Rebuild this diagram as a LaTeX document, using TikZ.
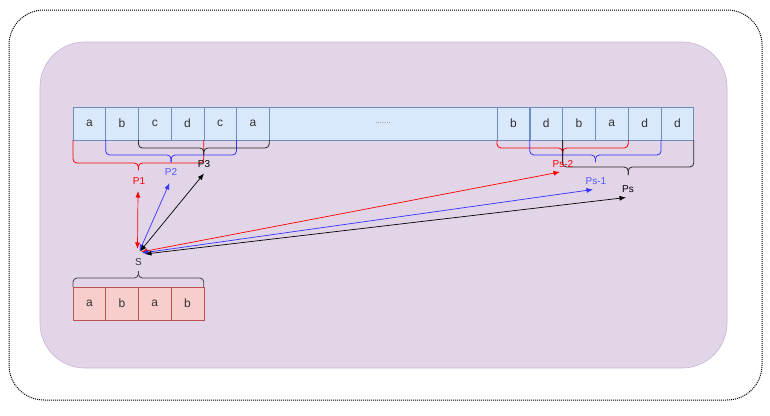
\documentclass[tikz,border=0pt]{standalone}
\usepackage{fontspec}
\setmainfont{Liberation Sans}
\usetikzlibrary{arrows.meta}
\definecolor{purpfill}{HTML}{E1D5E7}
\definecolor{purpline}{HTML}{C9B3D6}
\definecolor{cellblue}{HTML}{DAE8FC}
\definecolor{cellblueline}{HTML}{6C8EBF}
\definecolor{cellpink}{HTML}{F8CECC}
\definecolor{cellpinkline}{HTML}{B85450}
\definecolor{myred}{HTML}{FF0000}
\definecolor{myblue}{HTML}{3333FF}
\definecolor{lblblue}{HTML}{5555FF}
\definecolor{txt}{HTML}{333333}
\tikzset{
  bcell/.style={draw=cellblueline, fill=cellblue, line width=0.6pt, minimum width=32.7pt, minimum height=33pt, inner sep=0pt, text=txt, font=\fontsize{12}{14}\selectfont},
  pcell/.style={draw=cellpinkline, fill=cellpink, line width=0.6pt, minimum width=32.7pt, minimum height=33pt, inner sep=0pt, text=txt, font=\fontsize{12}{14}\selectfont},
  brace/.style={rounded corners=4pt, line width=0.8pt},
  lbl/.style={inner sep=0pt, font=\fontsize{10}{12}\selectfont},
  arr/.style={{Latex[length=6.5pt,width=5pt]}-{Latex[length=6.5pt,width=5pt]}, line width=0.7pt},
}
\begin{document}
\begin{tikzpicture}[x=1pt,y=-1pt]
\useasboundingbox (0,0) rectangle (770,415);
% outer dotted frame
\draw[densely dotted, line width=1pt, rounded corners=35pt] (9,10) rectangle (762,400);
% purple panel
\draw[purpline, fill=purpfill, line width=0.6pt, rounded corners=45pt] (40,42) rectangle (727,368);
% top array left cells
\foreach \t [count=\i from 0] in {a,b,c,d,c,a} {
  \node[bcell] (t\i) at ({73+32.7*\i+16.35},123.5) {\t};
}
% long middle cell
\node[bcell, minimum width=227.8pt] (tmid) at ({269.2+113.9},123.5) {};
\node[inner sep=0pt, text=gray, font=\fontsize{8}{9}\selectfont] (dots) at (tmid.center) {.......};
% top array right cells
\foreach \t [count=\i from 0] in {b,d,b,a,d,d} {
  \node[bcell] (r\i) at ({497+32.8*\i+16.4},123.5) {\t};
}
% left braces
\draw[brace, myred] (73,140) -- (73,163) -- (138.4,163) -- (138.4,170);
\draw[brace, myred] (203.8,140) -- (203.8,163) -- (138.4,163) -- (138.4,170);
\draw[brace, myblue] (105.7,140) -- (105.7,155) -- (171.1,155) -- (171.1,162);
\draw[brace, myblue] (236.5,140) -- (236.5,155) -- (171.1,155) -- (171.1,162);
\draw[brace, black!85] (138.4,140) -- (138.4,148) -- (203.8,148) -- (203.8,155);
\draw[brace, black!85] (269.2,140) -- (269.2,148) -- (203.8,148) -- (203.8,155);
% right braces
\draw[brace, myred] (497,140) -- (497,148) -- (562.6,148) -- (562.6,155);
\draw[brace, myred] (628.2,140) -- (628.2,148) -- (562.6,148) -- (562.6,155);
\draw[brace, myblue] (529.8,140) -- (529.8,155) -- (595.4,155) -- (595.4,162);
\draw[brace, myblue] (661,140) -- (661,155) -- (595.4,155) -- (595.4,162);
\draw[brace, black!85] (562.6,140) -- (562.6,167) -- (628.2,167) -- (628.2,175);
\draw[brace, black!85] (693.8,140) -- (693.8,167) -- (628.2,167) -- (628.2,175);
% labels
\node[lbl, text=myred] (P1) at (139,181) {P1};
\node[lbl, text=lblblue] (P2) at (171,172.5) {P2};
\node[lbl, text=black] (P3) at (204,164) {P3};
\node[lbl, text=myred] (Ps2) at (563,164.5) {Ps-2};
\node[lbl, text=lblblue] (Ps1) at (596,181.5) {Ps-1};
\node[lbl, text=black] (Ps) at (628,189.5) {Ps};
% bottom array
\foreach \t [count=\i from 0] in {a,b,a,b} {
  \node[pcell] (s\i) at ({73+32.7*\i+16.35},303.5) {\t};
}
\draw[brace, black!75] (73,287) -- (73,278) -- (138.4,278) -- (138.4,271);
\draw[brace, black!75] (203.8,287) -- (203.8,278) -- (138.4,278) -- (138.4,271);
\node[lbl, text=txt] (S) at (138.4,262) {S};
% arrow end points
\coordinate (e1) at (138,191);
\coordinate (e2) at (169.5,183);
\coordinate (e3) at (204,173.5);
\coordinate (e4) at (560,172);
\coordinate (e5) at (593,189.5);
\coordinate (e6) at (626,197.5);
\coordinate (s1) at (137.5,249);
\coordinate (s2) at (139.5,251);
\coordinate (s3) at (140,251.5);
\coordinate (s4) at (141,252);
\coordinate (s5) at (142,253);
\coordinate (s6) at (145,254);
\draw[arr, myred] (s1) -- (e1);
\draw[arr, myblue] (s2) -- (e2);
\draw[arr, black] (s3) -- (e3);
\draw[arr, myred] (s4) -- (e4);
\draw[arr, myblue] (s5) -- (e5);
\draw[arr, black] (s6) -- (e6);
\end{tikzpicture}
\end{document}
